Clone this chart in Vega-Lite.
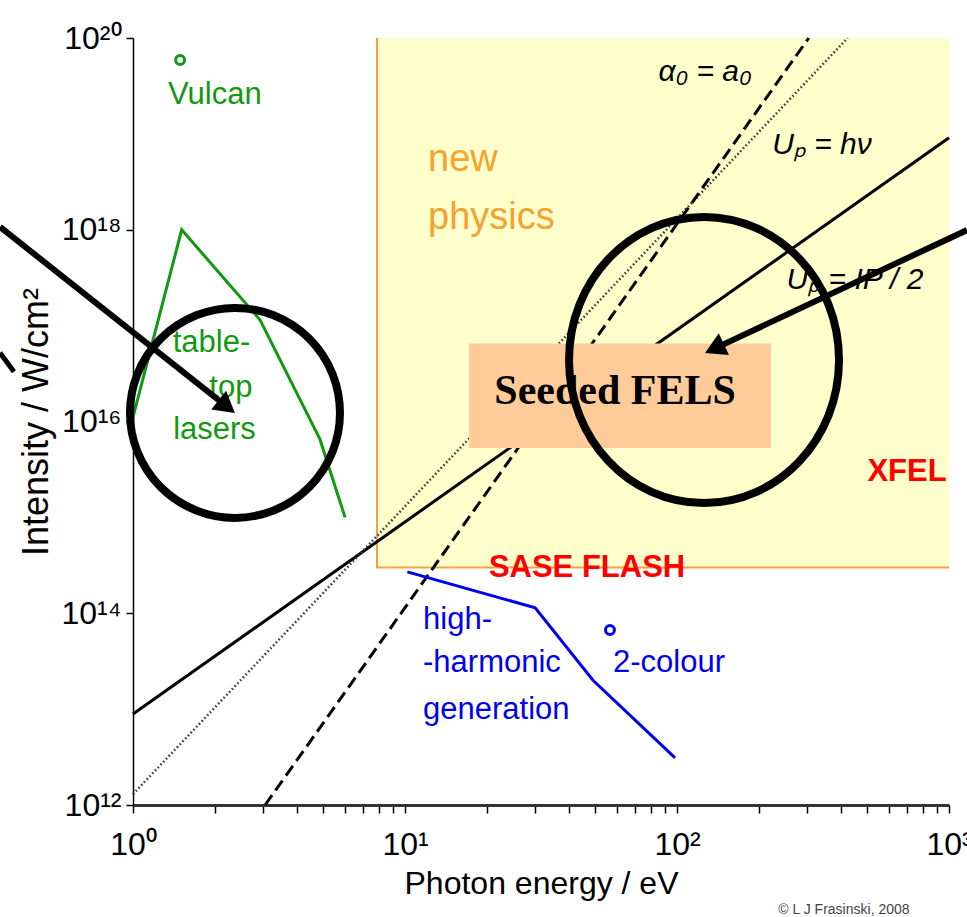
{
  "$schema": "https://vega.github.io/schema/vega-lite/v6.json",
  "width": 816,
  "height": 767,
  "autosize": {"type": "none"},
  "padding": {"left": 133, "top": 38, "right": 18, "bottom": 112},
  "background": "white",
  "config": {"view": {"stroke": null}, "font": "Liberation Sans"},
  "datasets": {
    "region": [{"E": 7.89, "E2": 1000, "I": 3e14, "I2": 1e20}],
    "edges": [{"E": 7.89, "I": 1e20, "k": 1}, {"E": 7.89, "I": 3e14, "k": 2}, {"E": 1000, "I": 3e14, "k": 3}],
    "solid": [{"E": 1, "I": 8.9e12}, {"E": 1000, "I": 9.1e18}],
    "dotted": [{"E": 1, "I": 1.3e12}, {"E": 424, "I": 1e20}],
    "dashed": [{"E": 3.06, "I": 1e12}, {"E": 305, "I": 1e20}],
    "box": [{"E": 17.2, "E2": 221.6, "I": 5.3e15, "I2": 6.5e16}],
    "lasers": [{"E": 1, "I": 1.11e16}, {"E": 1.51, "I": 1e18}, {"E": 2.93, "I": 1.15e17}, {"E": 4.87, "I": 6.5e15}, {"E": 6.02, "I": 1.0e15}],
    "hhg": [{"E": 10.2, "I": 2.7e14}, {"E": 30.1, "I": 1.14e14}, {"E": 49.1, "I": 2.0e13}, {"E": 98.4, "I": 3.1e12}],
    "vulcan": [{"E": 1.49, "I": 5.9e19}],
    "twocolour": [{"E": 56.7, "I": 6.7e13}],
    "greenText": [
      {"E": 2.0, "I": 2.54e19, "text": "Vulcan"},
      {"E": 1.944, "I": 6.6e16, "text": "table-"},
      {"E": 2.29, "I": 2.24e16, "text": "top"},
      {"E": 1.994, "I": 8.1e15, "text": "lasers"}
    ],
    "blueText": [
      {"E": 11.65, "I": 8.5e13, "text": "high-"},
      {"E": 11.65, "I": 3.0e13, "text": "-harmonic"},
      {"E": 11.65, "I": 9.8e12, "text": "generation"},
      {"E": 58.2, "I": 3.0e13, "text": "2-colour"}
    ],
    "redText": [
      {"E": 46.7, "I": 2.96e14, "text": "SASE FLASH"},
      {"E": 701, "I": 2.96e15, "text": "XFEL"}
    ],
    "orangeText": [
      {"E": 12.15, "I": 5.4e18, "text": "new"},
      {"E": 12.15, "I": 1.32e18, "text": "physics"}
    ],
    "felsText": [{"E": 59.2, "I": 2.08e16, "text": "Seeded FELS"}],
    "mathText": [
      {"E": 126.8, "I": 4.4e19, "text": "α₀ = a₀"},
      {"E": 341, "I": 7.66e18, "text": "Uₚ = hν"},
      {"E": 451, "I": 3.0e17, "text": "Uₚ = IP / 2"}
    ],
    "copyright": [{"E": 411, "I": 8.04e10, "text": "© L J Frasinski, 2008"}],
    "leftArrow": [{"E": 0.3243, "I": 1.07e18}, {"E": 2.162, "I": 1.51e16}],
    "rightArrow": [{"E": 1165, "I": 9.93e17}, {"E": 141, "I": 5.97e16}],
    "fragment": [{"E": 0.3243, "I": 5.2e16}, {"E": 0.365, "I": 3.3e16}],
    "leftHead": [{"E": 2.162, "I": 1.51e16}],
    "rightHead": [{"E": 141, "I": 5.97e16}],
    "leftCircle": [{"E": 2.371, "I": 1.23e16}],
    "rightCircle": [{"E": 125.7, "I": 4.38e16}]
  },
  "encoding": {
    "x": {
      "field": "E", "type": "quantitative",
      "scale": {"type": "log", "domain": [1, 1000], "nice": false},
      "axis": {
        "values": [1, 2, 3, 4, 5, 6, 7, 8, 9, 10, 20, 30, 40, 50, 60, 70, 80, 90, 100, 200, 300, 400, 500, 600, 700, 800, 900, 1000],
        "labelExpr": "datum.value == 1 ? '10⁰' : datum.value == 10 ? '10¹' : datum.value == 100 ? '10²' : datum.value == 1000 ? '10³' : ''",
        "title": "Photon energy / eV",
        "titleFont": "Liberation Sans", "titleFontSize": 32, "titleFontWeight": "normal", "titleColor": "#000",
        "labelFont": "Liberation Sans", "labelFontSize": 32, "labelColor": "#000",
        "tickSize": 8, "tickColor": "#000", "tickWidth": 1.5,
        "domainColor": "#333", "domainWidth": 3,
        "grid": false, "labelPadding": 16, "titlePadding": 8,
        "labelOverlap": false, "labelBound": false, "labelFlush": false
      }
    },
    "y": {
      "field": "I", "type": "quantitative",
      "scale": {"type": "log", "domain": [1e12, 1e20], "nice": false},
      "axis": {
        "values": [1e12, 1e14, 1e16, 1e18, 1e20],
        "labelExpr": "datum.value == 1e12 ? '10¹²' : datum.value == 1e14 ? '10¹⁴' : datum.value == 1e16 ? '10¹⁶' : datum.value == 1e18 ? '10¹⁸' : '10²⁰'",
        "title": "Intensity / W/cm²",
        "titleFont": "Liberation Sans", "titleFontSize": 36, "titleFontWeight": "normal", "titleColor": "#000",
        "labelFont": "Liberation Sans", "labelFontSize": 32, "labelColor": "#000",
        "tickSize": 7, "tickColor": "#000", "tickWidth": 1.5,
        "domainColor": "#000", "domainWidth": 1.5,
        "grid": false, "labelPadding": 5, "titlePadding": 6,
        "labelOverlap": false, "labelBound": false, "labelFlush": false
      }
    }
  },
  "layer": [
    {"data": {"name": "region"}, "mark": {"type": "rect", "fill": "#FFFFCC"}, "encoding": {"x2": {"field": "E2"}, "y2": {"field": "I2"}}},
    {"data": {"name": "edges"}, "mark": {"type": "line", "color": "#F7A040", "strokeWidth": 2}, "encoding": {"order": {"field": "k", "type": "quantitative"}}},
    {"data": {"name": "solid"}, "mark": {"type": "line", "color": "#000", "strokeWidth": 3}, "encoding": {}},
    {"data": {"name": "dotted"}, "mark": {"type": "line", "color": "#333", "strokeWidth": 2.5, "strokeDash": [1.5, 2.5]}, "encoding": {}},
    {"data": {"name": "dashed"}, "mark": {"type": "line", "color": "#000", "strokeWidth": 3, "strokeDash": [12, 6]}, "encoding": {}},
    {"data": {"name": "box"}, "mark": {"type": "rect", "fill": "#FFCC99"}, "encoding": {"x2": {"field": "E2"}, "y2": {"field": "I2"}}},
    {"data": {"name": "lasers"}, "mark": {"type": "line", "color": "#119911", "strokeWidth": 3}, "encoding": {}},
    {"data": {"name": "hhg"}, "mark": {"type": "line", "color": "#0000EE", "strokeWidth": 3}, "encoding": {}},
    {"data": {"name": "vulcan"}, "mark": {"type": "point", "shape": "circle", "filled": false, "color": "#119911", "strokeWidth": 3, "size": 80, "opacity": 1}},
    {"data": {"name": "twocolour"}, "mark": {"type": "point", "shape": "circle", "filled": false, "color": "#0000EE", "strokeWidth": 3, "size": 80, "opacity": 1}},
    {"data": {"name": "orangeText"}, "mark": {"type": "text", "font": "Liberation Sans", "fontSize": 38, "color": "#F4A230", "align": "left", "baseline": "middle"}, "encoding": {"text": {"field": "text"}}},
    {"data": {"name": "greenText"}, "mark": {"type": "text", "font": "Liberation Sans", "fontSize": 31, "color": "#119911", "align": "center", "baseline": "middle"}, "encoding": {"text": {"field": "text"}}},
    {"data": {"name": "blueText"}, "mark": {"type": "text", "font": "Liberation Sans", "fontSize": 31, "color": "#0000EE", "align": "left", "baseline": "middle"}, "encoding": {"text": {"field": "text"}}},
    {"data": {"name": "redText"}, "mark": {"type": "text", "font": "Liberation Sans", "fontSize": 31, "fontWeight": "bold", "color": "#FF0000", "align": "center", "baseline": "middle"}, "encoding": {"text": {"field": "text"}}},
    {"data": {"name": "felsText"}, "mark": {"type": "text", "font": "Liberation Serif", "fontSize": 42, "fontWeight": "bold", "color": "#000", "align": "center", "baseline": "middle"}, "encoding": {"text": {"field": "text"}}},
    {"data": {"name": "mathText"}, "mark": {"type": "text", "font": "Liberation Sans", "fontSize": 30, "fontStyle": "italic", "color": "#000", "align": "center", "baseline": "middle"}, "encoding": {"text": {"field": "text"}}},
    {"data": {"name": "copyright"}, "mark": {"type": "text", "font": "Liberation Sans", "fontSize": 14, "color": "#444", "align": "center", "baseline": "middle"}, "encoding": {"text": {"field": "text"}}},
    {"data": {"name": "leftArrow"}, "mark": {"type": "line", "color": "#000", "strokeWidth": 6}, "encoding": {}},
    {"data": {"name": "rightArrow"}, "mark": {"type": "line", "color": "#000", "strokeWidth": 6}, "encoding": {}},
    {"data": {"name": "fragment"}, "mark": {"type": "line", "color": "#000", "strokeWidth": 5}, "encoding": {}},
    {"data": {"name": "leftHead"}, "mark": {"type": "point", "shape": "triangle", "filled": true, "color": "#000", "size": 576, "angle": 128.4, "opacity": 1}},
    {"data": {"name": "rightHead"}, "mark": {"type": "point", "shape": "triangle", "filled": true, "color": "#000", "size": 576, "angle": 244.9, "opacity": 1}},
    {"data": {"name": "leftCircle"}, "mark": {"type": "point", "shape": "circle", "filled": false, "color": "#000", "strokeWidth": 8, "size": 44100, "opacity": 1}},
    {"data": {"name": "rightCircle"}, "mark": {"type": "point", "shape": "M -1 0 C -1 -0.5854 -0.5523 -1.06 0 -1.06 C 0.5523 -1.06 1 -0.5854 1 0 C 1 0.5854 0.5523 1.06 0 1.06 C -0.5523 1.06 -1 0.5854 -1 0 Z", "filled": false, "color": "#000", "strokeWidth": 8, "size": 72900, "opacity": 1}}
  ]
}
